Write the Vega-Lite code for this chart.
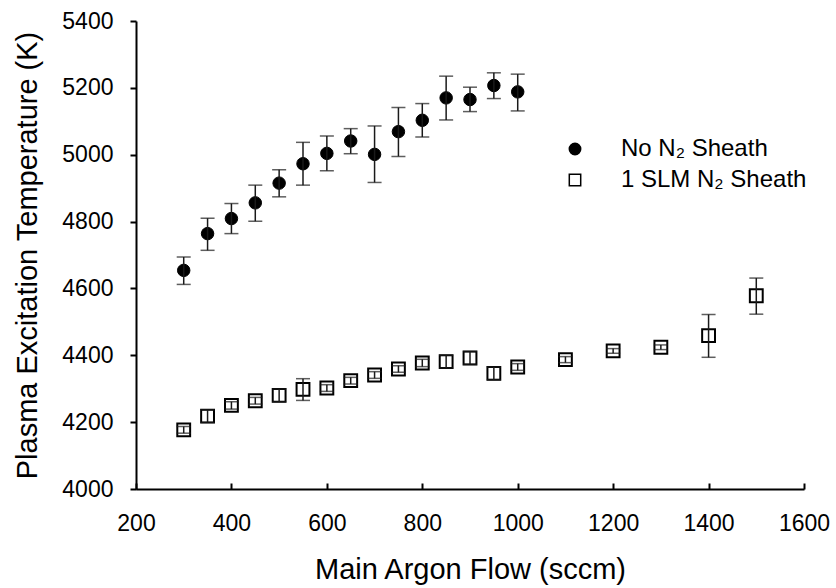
{
  "$schema": "https://vega.github.io/schema/vega-lite/v6.json",
  "width": 668,
  "height": 468,
  "autosize": "none",
  "padding": {"left": 136, "top": 21, "right": 32, "bottom": 99},
  "config": {
    "view": {"stroke": null},
    "font": "Liberation Sans",
    "axis": {
      "grid": false,
      "domainColor": "black",
      "domainWidth": 2,
      "tickColor": "black",
      "tickWidth": 2,
      "labelColor": "black",
      "titleColor": "black",
      "labelFont": "Liberation Sans",
      "titleFont": "Liberation Sans",
      "labelFontSize": 23,
      "titleFontSize": 29,
      "titleFontWeight": "normal",
      "labelFlush": false
    },
    "legend": {
      "labelFont": "Liberation Sans",
      "labelFontSize": 24,
      "labelColor": "black",
      "labelLimit": 400
    }
  },
  "data": {
    "values": [
      {"series": "No N₂ Sheath", "flow": 300, "temp": 4654, "lo": 4612, "hi": 4694},
      {"series": "No N₂ Sheath", "flow": 350, "temp": 4764, "lo": 4714, "hi": 4810},
      {"series": "No N₂ Sheath", "flow": 400, "temp": 4809, "lo": 4764, "hi": 4854},
      {"series": "No N₂ Sheath", "flow": 450, "temp": 4856, "lo": 4801, "hi": 4909},
      {"series": "No N₂ Sheath", "flow": 500, "temp": 4915, "lo": 4874, "hi": 4955},
      {"series": "No N₂ Sheath", "flow": 550, "temp": 4973, "lo": 4909, "hi": 5037},
      {"series": "No N₂ Sheath", "flow": 600, "temp": 5004, "lo": 4952, "hi": 5056},
      {"series": "No N₂ Sheath", "flow": 650, "temp": 5041, "lo": 5003, "hi": 5078},
      {"series": "No N₂ Sheath", "flow": 700, "temp": 5001, "lo": 4917, "hi": 5086},
      {"series": "No N₂ Sheath", "flow": 750, "temp": 5069, "lo": 4995, "hi": 5141},
      {"series": "No N₂ Sheath", "flow": 800, "temp": 5103, "lo": 5053, "hi": 5153},
      {"series": "No N₂ Sheath", "flow": 850, "temp": 5170, "lo": 5104, "hi": 5235},
      {"series": "No N₂ Sheath", "flow": 900, "temp": 5165, "lo": 5129, "hi": 5202},
      {"series": "No N₂ Sheath", "flow": 950, "temp": 5207, "lo": 5168, "hi": 5245},
      {"series": "No N₂ Sheath", "flow": 1000, "temp": 5188, "lo": 5131, "hi": 5241},
      {"series": "1 SLM N₂ Sheath", "flow": 300, "temp": 4177, "lo": 4167, "hi": 4187},
      {"series": "1 SLM N₂ Sheath", "flow": 350, "temp": 4218, "lo": 4199, "hi": 4237},
      {"series": "1 SLM N₂ Sheath", "flow": 400, "temp": 4250, "lo": 4239, "hi": 4261},
      {"series": "1 SLM N₂ Sheath", "flow": 450, "temp": 4264, "lo": 4254, "hi": 4274},
      {"series": "1 SLM N₂ Sheath", "flow": 500, "temp": 4280, "lo": 4261, "hi": 4299},
      {"series": "1 SLM N₂ Sheath", "flow": 550, "temp": 4298, "lo": 4265, "hi": 4330},
      {"series": "1 SLM N₂ Sheath", "flow": 600, "temp": 4302, "lo": 4292, "hi": 4312},
      {"series": "1 SLM N₂ Sheath", "flow": 650, "temp": 4324, "lo": 4314, "hi": 4334},
      {"series": "1 SLM N₂ Sheath", "flow": 700, "temp": 4341, "lo": 4331, "hi": 4351},
      {"series": "1 SLM N₂ Sheath", "flow": 750, "temp": 4359, "lo": 4349, "hi": 4369},
      {"series": "1 SLM N₂ Sheath", "flow": 800, "temp": 4377, "lo": 4366, "hi": 4388},
      {"series": "1 SLM N₂ Sheath", "flow": 850, "temp": 4381, "lo": 4362, "hi": 4400},
      {"series": "1 SLM N₂ Sheath", "flow": 900, "temp": 4392, "lo": 4373, "hi": 4411},
      {"series": "1 SLM N₂ Sheath", "flow": 950, "temp": 4346, "lo": 4327, "hi": 4365},
      {"series": "1 SLM N₂ Sheath", "flow": 1000, "temp": 4365, "lo": 4355, "hi": 4375},
      {"series": "1 SLM N₂ Sheath", "flow": 1100, "temp": 4387, "lo": 4378, "hi": 4396},
      {"series": "1 SLM N₂ Sheath", "flow": 1200, "temp": 4413, "lo": 4406, "hi": 4420},
      {"series": "1 SLM N₂ Sheath", "flow": 1300, "temp": 4424, "lo": 4417, "hi": 4431},
      {"series": "1 SLM N₂ Sheath", "flow": 1400, "temp": 4459, "lo": 4394, "hi": 4522},
      {"series": "1 SLM N₂ Sheath", "flow": 1500, "temp": 4578, "lo": 4523, "hi": 4631}
    ]
  },
  "encoding": {
    "x": {
      "field": "flow",
      "type": "quantitative",
      "scale": {"domain": [200, 1600], "nice": false},
      "axis": {
        "title": "Main Argon Flow (sccm)",
        "format": "d",
        "values": [200, 400, 600, 800, 1000, 1200, 1400, 1600],
        "tickSize": -6,
        "labelPadding": 29,
        "titlePadding": 20
      }
    }
  },
  "layer": [
    {
      "transform": [{"filter": "datum.series === 'No N₂ Sheath'"}],
      "mark": {"type": "point", "opacity": 1, "stroke": "black", "strokeWidth": 1, "size": 155},
      "encoding": {
        "y": {
          "field": "temp",
          "type": "quantitative",
          "scale": {"domain": [4000, 5400], "nice": false, "zero": false},
          "axis": {
            "title": "Plasma Excitation Temperature (K)",
            "format": "d",
            "values": [4000, 4200, 4400, 4600, 4800, 5000, 5200, 5400],
            "tickSize": 6,
            "labelPadding": 17,
            "titlePadding": 19
          }
        },
        "shape": {
          "field": "series",
          "type": "nominal",
          "sort": ["No N₂ Sheath", "1 SLM N₂ Sheath"],
          "scale": {"domain": ["No N₂ Sheath", "1 SLM N₂ Sheath"], "range": ["circle", "square"]},
          "legend": {
            "title": null,
            "orient": "none",
            "legendX": 427,
            "legendY": 116,
            "padding": 0,
            "labelOffset": 34,
            "rowPadding": 7,
            "symbolSize": 130,
            "encode": {
              "symbols": {
                "update": {
                  "stroke": {"value": "black"},
                  "strokeWidth": {"value": 1.5}
                }
              }
            }
          }
        },
        "fill": {
          "field": "series",
          "type": "nominal",
          "sort": ["No N₂ Sheath", "1 SLM N₂ Sheath"],
          "scale": {"domain": ["No N₂ Sheath", "1 SLM N₂ Sheath"], "range": ["black", "white"]},
          "legend": {
            "title": null,
            "orient": "none",
            "legendX": 427,
            "legendY": 116,
            "padding": 0,
            "labelOffset": 34,
            "rowPadding": 7,
            "symbolSize": 130,
            "encode": {
              "symbols": {
                "update": {
                  "stroke": {"value": "black"},
                  "strokeWidth": {"value": 1.5}
                }
              }
            }
          }
        }
      }
    },
    {
      "transform": [{"filter": "datum.series === '1 SLM N₂ Sheath'"}],
      "mark": {"type": "point", "opacity": 1, "stroke": "black", "strokeWidth": 2, "size": 165},
      "encoding": {
        "y": {"field": "temp", "type": "quantitative"},
        "shape": {"field": "series", "type": "nominal", "sort": ["No N₂ Sheath", "1 SLM N₂ Sheath"]},
        "fill": {"field": "series", "type": "nominal", "sort": ["No N₂ Sheath", "1 SLM N₂ Sheath"]}
      }
    },
    {
      "mark": {"type": "rule", "color": "#1a1a1a", "strokeWidth": 1.5},
      "encoding": {
        "y": {"field": "lo", "type": "quantitative"},
        "y2": {"field": "hi"}
      }
    },
    {
      "mark": {"type": "tick", "orient": "horizontal", "color": "#1a1a1a", "thickness": 1.5, "size": 14},
      "encoding": {
        "y": {"field": "lo", "type": "quantitative"}
      }
    },
    {
      "mark": {"type": "tick", "orient": "horizontal", "color": "#1a1a1a", "thickness": 1.5, "size": 14},
      "encoding": {
        "y": {"field": "hi", "type": "quantitative"}
      }
    }
  ]
}
